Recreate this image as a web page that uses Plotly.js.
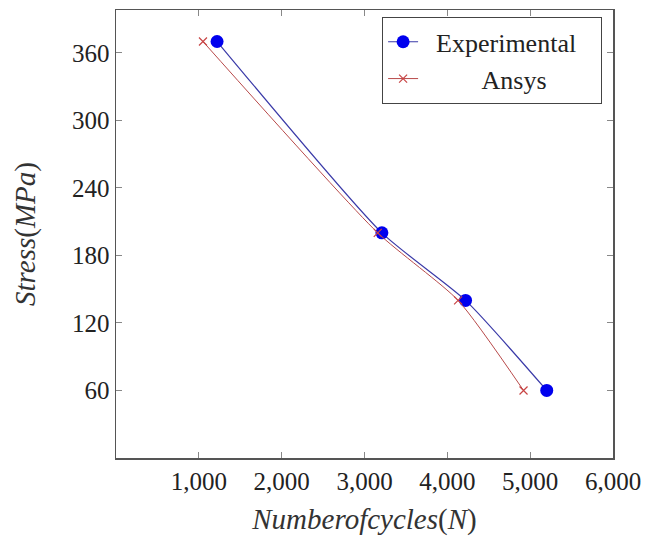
<!DOCTYPE html>
<html>
<head>
<meta charset="utf-8">
<script src="https://cdn.plot.ly/plotly-3.0.1.min.js"></script>
<style>html,body{margin:0;padding:0;background:#fff;}#chart{width:655px;height:539px;}</style>
</head>
<body>
<div id="chart"></div>
<script>
var expCycles = [1220, 3210, 4220, 5200];
var expStress = [370, 200, 140, 60];
var ansysCycles = [1050, 3160, 4130, 4920];
var ansysStress = [370, 200, 140, 60];
var xTicks = [1000, 2000, 3000, 4000, 5000, 6000];
var yTicks = [60, 120, 180, 240, 300, 360];

var serif = "Liberation Serif";
var sp = '\u00a0';

var traces = [
  {
    x: expCycles, y: expStress, name: sp + sp + 'Experimental' + sp + sp + sp, type: 'scatter', mode: 'lines+markers',
    line: {color: '#3a3aa8', width: 1.2, shape: 'spline', smoothing: 0.6},
    marker: {color: '#0000ee', size: 13, symbol: 'circle'}
  },
  {
    x: ansysCycles, y: ansysStress, name: sp.repeat(9) + 'Ansys', type: 'scatter', mode: 'lines+markers',
    line: {color: '#b84a4a', width: 1, shape: 'spline', smoothing: 0.6},
    marker: {color: '#c84444', size: 8, symbol: 'x-thin', line: {color: '#c84444', width: 1.2}}
  }
];

var axisCommon = {
  showgrid: false, zeroline: false, showline: true, linecolor: '#555', linewidth: 1.5,
  mirror: 'ticks', ticks: 'inside', ticklen: 6, tickcolor: '#888', tickwidth: 1,
  tickfont: {family: serif, size: 25, color: '#222'}
};

var layout = {
  width: 655, height: 539,
  font: {family: serif, size: 25, color: '#222'},
  margin: {l: 116, r: 42, t: 10, b: 81},
  paper_bgcolor: '#fff', plot_bgcolor: '#fff',
  showlegend: true,
  legend: {
    x: 0.535, y: 0.984, xanchor: 'left', yanchor: 'top',
    bordercolor: '#444', borderwidth: 1.2, bgcolor: '#fff',
    font: {family: serif, size: 26, color: '#222'},
    tracegroupgap: 0
  },
  xaxis: Object.assign({}, axisCommon, {
    range: [0, 6000], tickvals: xTicks, tickformat: ',d',
    title: {text: '<i>Numberofcycles</i>(<i>N</i>)', font: {family: serif, size: 29, color: '#333'}, standoff: 15}
  }),
  yaxis: Object.assign({}, axisCommon, {
    range: [0, 398], tickvals: yTicks,
    title: {text: '<i>Stress</i>(<i>MPa</i>)', font: {family: serif, size: 29, color: '#333'}, standoff: 28}
  })
};

Plotly.newPlot('chart', traces, layout, {displayModeBar: false, staticPlot: true});
</script>
</body>
</html>
